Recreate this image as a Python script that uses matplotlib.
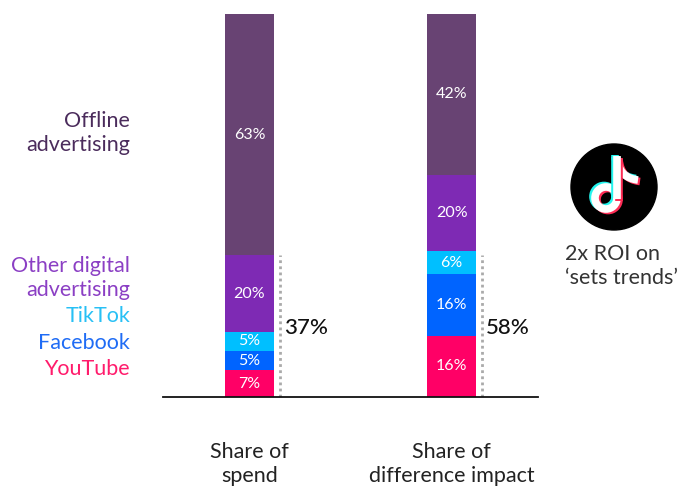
import matplotlib
matplotlib.use("Agg")
import matplotlib.pyplot as plt
import matplotlib.patches as patches
from matplotlib.path import Path
import numpy as np

plt.rcParams['font.family'] = ['Lato', 'DejaVu Sans']

# data
bars = ['Share of\nspend', 'Share of\ndifference impact']
channels = ['YouTube', 'Facebook', 'TikTok', 'Other digital\nadvertising', 'Offline\nadvertising']
spend = [7, 5, 5, 20, 63]
impact = [16, 16, 6, 20, 42]
digital_totals = ['37%', '58%']
bracket_top = [37, 37]

seg_colors = ['#FF0066', '#0064FF', '#00BFFF', '#7E2AB4', '#684373']
label_colors = ['#FF1C6C', '#1F6CF5', '#28C0F5', '#8B3FC4', '#4B2C5C']

W, H = 693, 488
fig = plt.figure(figsize=(W / 100, H / 100), dpi=100)

# main axes: baseline at y=397px, bar tops at y=14px
ax = fig.add_axes([163 / W, (H - 397) / H, (538 - 163) / W, (397 - 14) / H])
ax.set_xlim(-0.428, 1.428)
ax.set_ylim(0, 100)
ax.axis('off')

x = np.arange(len(bars))
width = 0.2426
for j, vals in enumerate([spend, impact]):
    bottom = 0
    for i, v in enumerate(vals):
        ax.bar(x[j], v, width, bottom=bottom, color=seg_colors[i], linewidth=0)
        ax.text(x[j], bottom + v / 2, f'{v}%', ha='center', va='center',
                color='white', fontsize=11.5)
        bottom += v
    # dotted bracket for digital share
    ax.plot([x[j] + 0.15, x[j] + 0.15], [0, bracket_top[j]], color='#AAAAAA',
            lw=2, linestyle=(0, (1, 1.2)), solid_capstyle='butt')
    ax.text(x[j] + 0.172, 18, digital_totals[j], ha='left', va='center',
            fontsize=16, color='#111111', fontweight='medium')

# baseline
ax.plot([-0.428, 1.428], [0, 0], color='#111111', lw=1.3, clip_on=False)

# overlay in pixel coordinates for labels and the logo
ov = fig.add_axes([0, 0, 1, 1])
ov.set_xlim(0, W)
ov.set_ylim(H, 0)
ov.axis('off')
ov.patch.set_alpha(0)

lab_kw = dict(fontsize=15.5, linespacing=1.3)
left_labels = [(369, 0), (343, 1), (316, 2), (278, 3), (133, 4)]
for yy, i in left_labels:
    ov.text(130, yy, channels[i], ha='right', va='center',
            color=label_colors[i], **lab_kw)

for j, lab in enumerate(bars):
    cx = 249.5 + 202 * j
    ov.text(cx, 464, lab, ha='center', va='center', color='#222222', **lab_kw)

# TikTok logo
ov.add_patch(patches.Circle((614, 187), 43, color='black'))


def note(dx, dy, col):
    lw = 5.5
    ov.add_patch(patches.Arc((606 + dx, 198 + dy), 22, 22, theta1=0, theta2=360,
                             color=col, lw=lw))
    ov.plot([617 + dx, 617 + dx], [199 + dy, 156 + dy], color=col, lw=lw,
            solid_capstyle='butt')
    p = Path([(617 + dx, 158 + dy), (619 + dx, 178 + dy), (638 + dx, 180 + dy)],
             [Path.MOVETO, Path.CURVE3, Path.CURVE3])
    ov.add_patch(patches.PathPatch(p, fill=False, edgecolor=col, lw=lw,
                                   capstyle='butt'))


note(-2, -1.5, '#25F4EE')
note(2, 1.5, '#FE2C55')
note(0, 0, 'white')

ov.text(565, 266, '2x ROI on\n\u2018sets trends\u2019', ha='left', va='center',
        color='#333333', **lab_kw)

fig.savefig('out.png', dpi=100)
